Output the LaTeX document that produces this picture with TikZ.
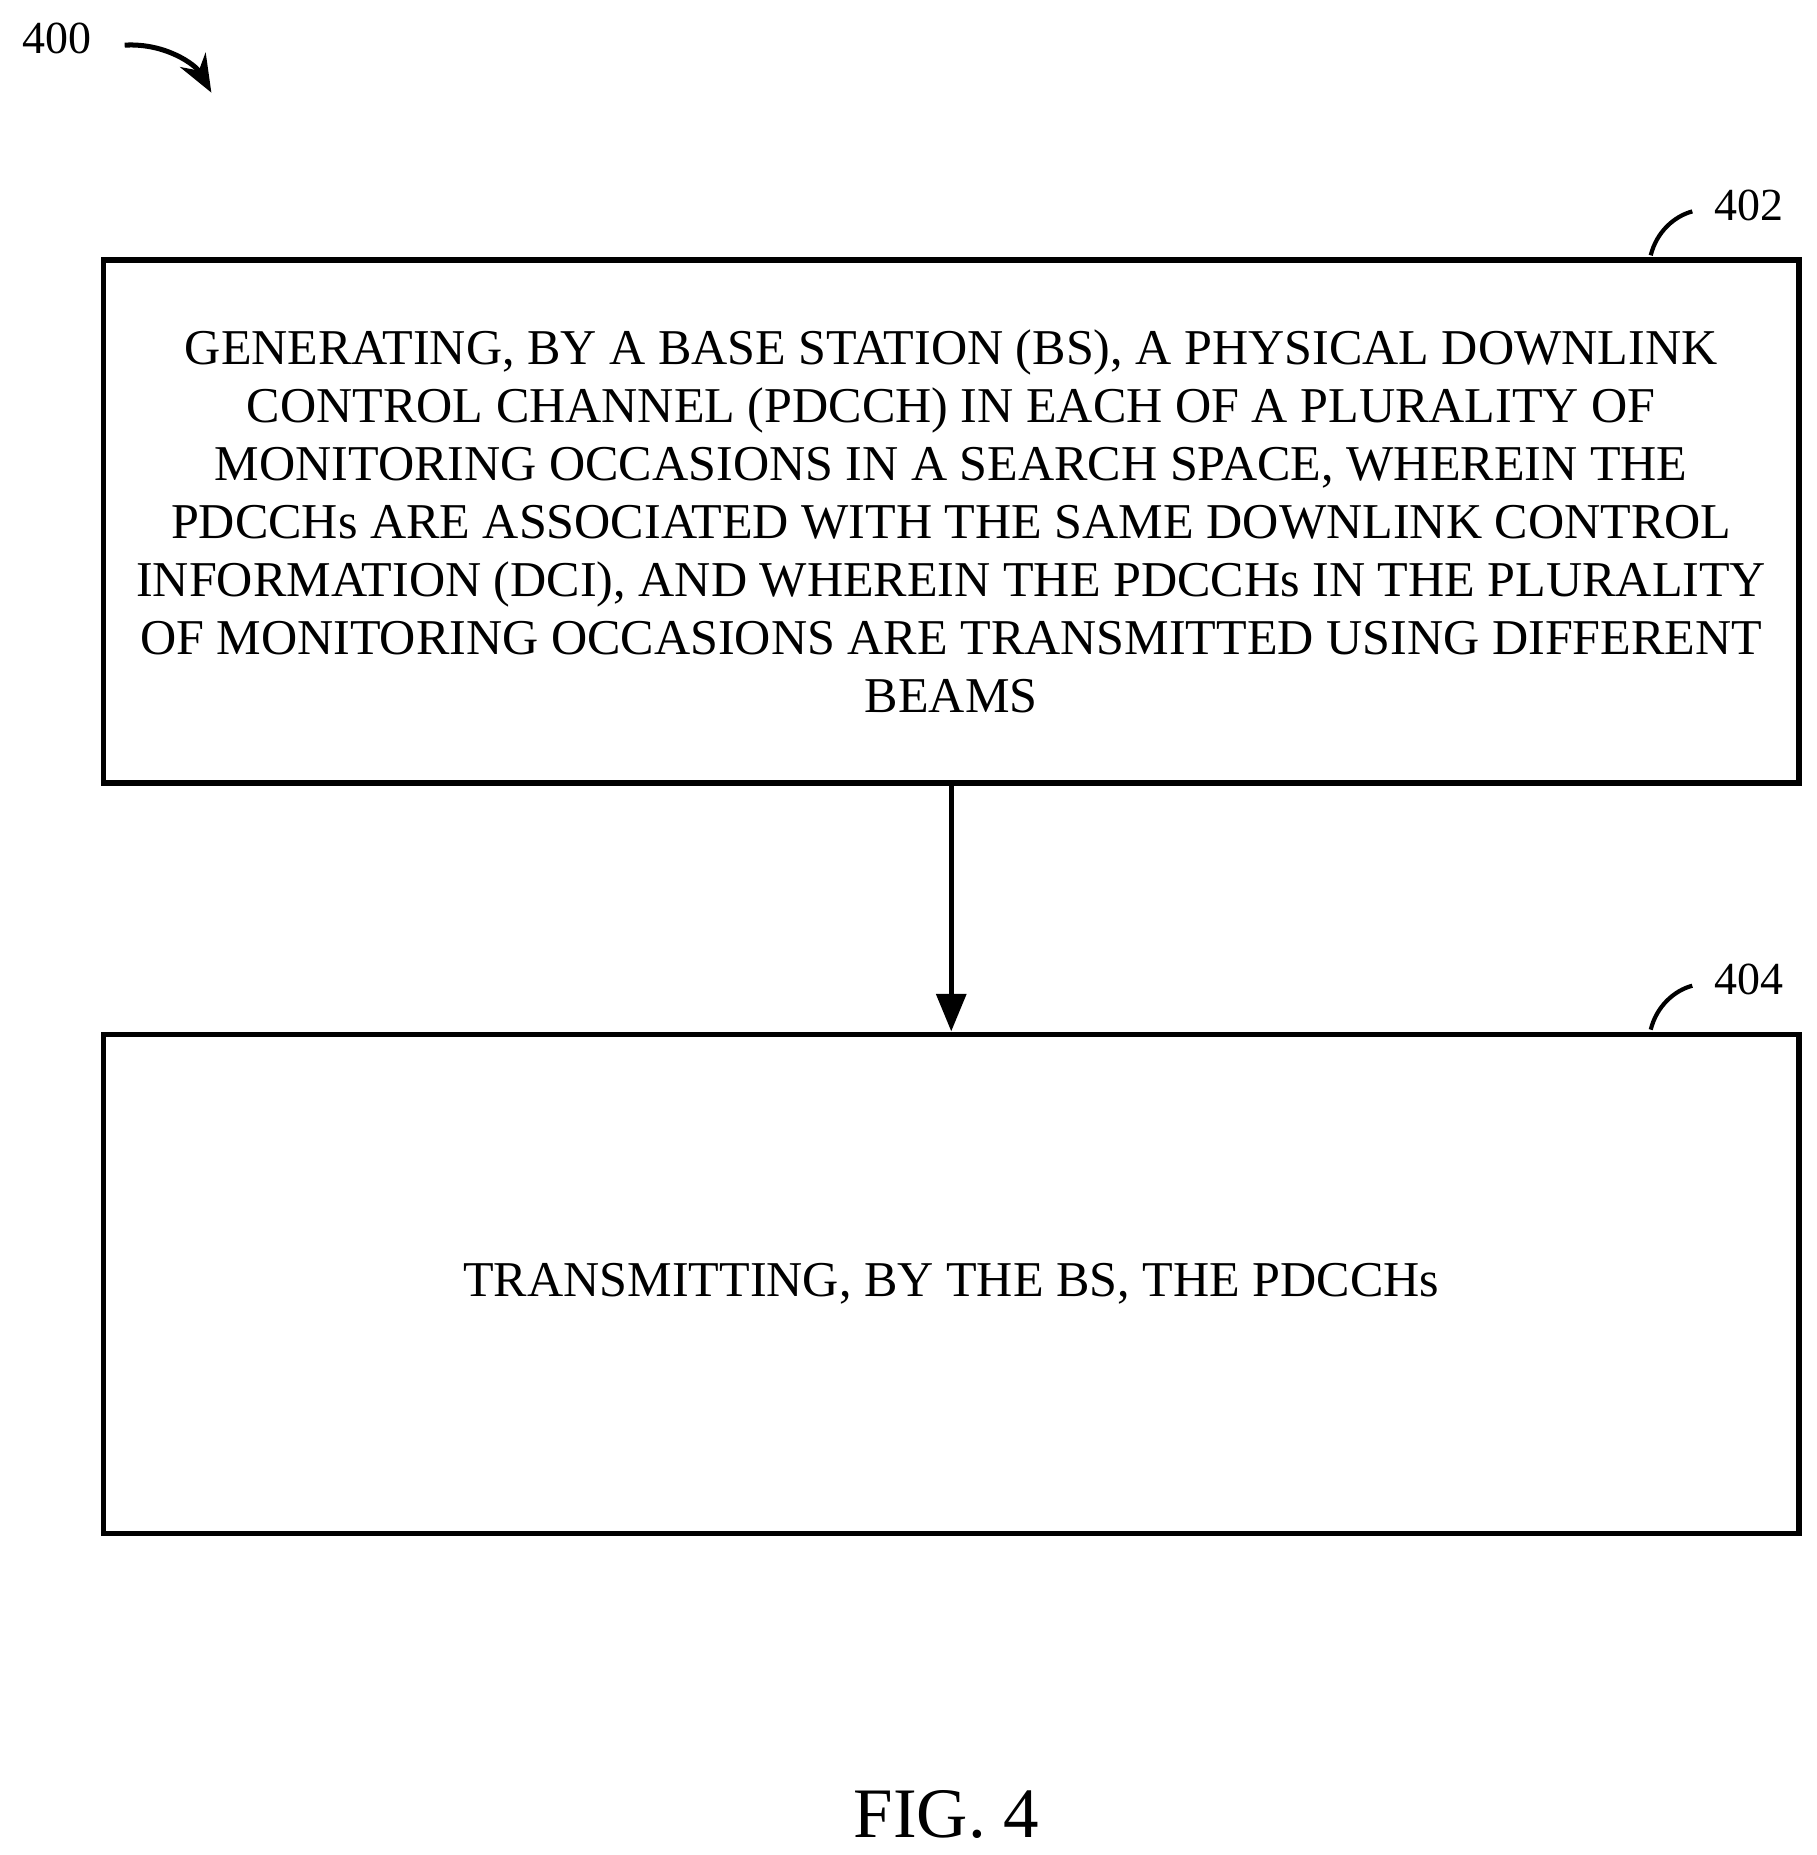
\documentclass[tikz,border=0pt]{standalone}
\usepackage{fontspec}
\setmainfont{Liberation Serif}
\usetikzlibrary{positioning,arrows.meta}

\tikzset{
  flowstep/.style={draw, line width=1.3pt, minimum width=14.27cm, align=center,
    font=\fontsize{12}{13.9}\selectfont},
  lbl/.style={font=\fontsize{11}{13}\selectfont},
  flow/.style={-{Triangle[length=9pt,width=7pt]}, line width=1.3pt}
}

\begin{document}
\begin{tikzpicture}[x=0.01cm,y=-0.01cm]
   \useasboundingbox (0,0) rectangle (1530,1562);

   \node[flowstep, minimum height=4.40cm] (s402) at (801,439)
     {GENERATING, BY A BASE STATION (BS), A PHYSICAL DOWNLINK\\
      CONTROL CHANNEL (PDCCH) IN EACH OF A PLURALITY OF\\
      MONITORING OCCASIONS IN A SEARCH SPACE, WHEREIN THE\\
      PDCCHs ARE ASSOCIATED WITH THE SAME DOWNLINK CONTROL\\
      INFORMATION (DCI), AND WHEREIN THE PDCCHs IN THE PLURALITY\\
      OF MONITORING OCCASIONS ARE TRANSMITTED USING DIFFERENT\\
      BEAMS};
   \node[flowstep, minimum height=4.20cm] (s404) at (801,1081)
     {TRANSMITTING, BY THE BS, THE PDCCHs};

   \draw[flow] (s402) -- (s404);

   % reference labels
   \node[lbl] (n402) at (1473,173) {402};
   \node[lbl] (n404) at (1473,825) {404};
   \draw[line width=1pt] (1390,215) .. controls (1395,195) and (1410,182) .. (1425,178);
   \draw[line width=1pt] (1390,867) .. controls (1395,847) and (1410,834) .. (1425,830);

   \node[lbl] (n400) at (48,32) {400};
   \draw[-{Stealth[length=9pt,width=7pt]}, line width=1.2pt]
     (105,38) .. controls (140,36) and (165,55) .. (178,78);

   \node[font=\fontsize{17}{20}\selectfont] (fig) at (797,1528) {FIG. 4};
\end{tikzpicture}
\end{document}
